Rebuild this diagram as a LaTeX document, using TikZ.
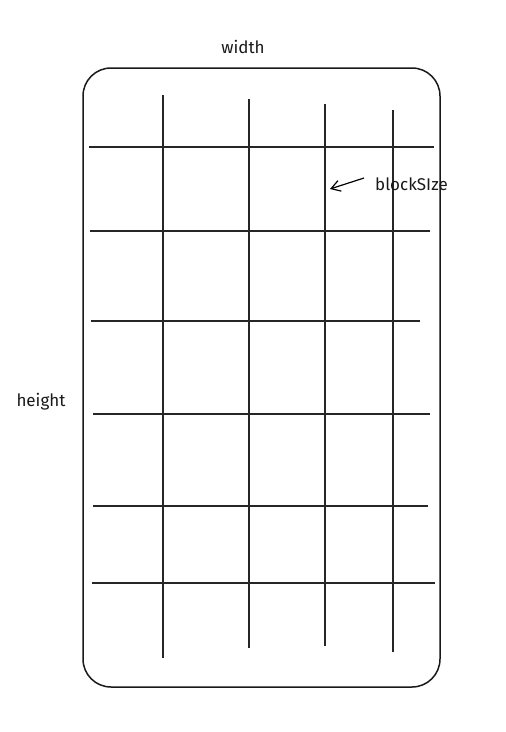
\documentclass[tikz,border=0pt]{standalone}
\usepackage{fontspec}
\setmainfont{Fira Sans}
\usetikzlibrary{arrows.meta}
\begin{document}
\begin{tikzpicture}[x=1pt,y=-1pt,
  gridline/.style={draw=black!85,line width=1.2pt},
  frame/.style={draw=black!90,line width=1.5pt,rounded corners=28pt},
  lbl/.style={font=\fontsize{17}{19}\selectfont,inner sep=0pt,text=black!90}]
\useasboundingbox (0,0) rectangle (506,732);
\draw[frame] (83,68) rectangle (440,687);
% vertical lines
\draw[gridline] (163,95) -- (163,658);
\draw[gridline] (249,99) -- (249,648);
\draw[gridline] (325,104) -- (325,646);
\draw[gridline] (393,110) -- (393,652);
% horizontal lines
\draw[gridline] (89,147) -- (434,147);
\draw[gridline] (90,231) -- (430,231);
\draw[gridline] (91,321) -- (420,321);
\draw[gridline] (93,414) -- (430,414);
\draw[gridline] (93,506) -- (428,506);
\draw[gridline] (92,583) -- (435,583);
% labels
\node[lbl] (width) at (243,47) {width};
\node[lbl] (height) at (41,402) {height};
\node[lbl,anchor=west] (block) at (375,184) {blockSIze};
\coordinate (tail) at (364,178);
\coordinate (head) at (330,189);
\draw[line width=1.2pt,-{Straight Barb[length=9pt,width=11pt]}] (tail) -- (head);
\end{tikzpicture}
\end{document}
